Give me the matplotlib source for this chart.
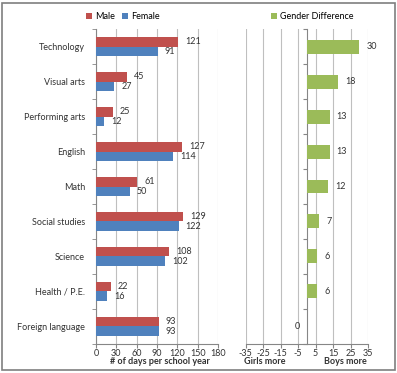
import matplotlib.pyplot as plt
from matplotlib.patches import Rectangle
import numpy as np

plt.rcParams['font.family'] = ['Lato', 'DejaVu Sans']
plt.rcParams['axes.unicode_minus'] = False

subjects = ["Technology", "Visual arts", "Performing arts", "English", "Math",
            "Social studies", "Science", "Health / P.E.", "Foreign language"]
male = [121, 45, 25, 127, 61, 129, 108, 22, 93]
female = [91, 27, 12, 114, 50, 122, 102, 16, 93]
diff = [30, 18, 13, 13, 12, 7, 6, 6, 0]

red = "#C0504D"
blue = "#4F81BD"
green = "#9BBB59"
grid_col = "#BFBFBF"
axis_col = "#868686"
txt_col = "#333333"
fs = 6.5

fig = plt.figure(figsize=(3.97, 3.73), dpi=100)
fig.patches.append(Rectangle((0.004, 0.008), 0.99, 0.984, transform=fig.transFigure,
                             fill=False, edgecolor="#7F7F7F", linewidth=1.2))

y = np.arange(len(subjects))
h = 0.27

# left panel: days per school year
ax = fig.add_axes([0.242, 0.078, 0.307, 0.844])
ax.barh(y - h / 2, male, height=h, color=red, label="Male", zorder=3)
ax.barh(y + h / 2, female, height=h, color=blue, label="Female", zorder=3)
for i in range(len(subjects)):
    ax.annotate(str(male[i]), (male[i], y[i] - h / 2), xytext=(5, 0), textcoords="offset points",
                va="center", ha="left", fontsize=fs, color=txt_col)
    ax.annotate(str(female[i]), (female[i], y[i] + h / 2), xytext=(5, 0), textcoords="offset points",
                va="center", ha="left", fontsize=fs, color=txt_col)
ax.set_xlim(0, 180)
ax.set_ylim(len(subjects) - 0.5, -0.5)
ax.set_xticks(range(0, 181, 30))
ax.set_yticks(y)
ax.set_yticklabels(subjects)
ax.set_yticks(np.arange(-0.5, len(subjects), 1), minor=True)
ax.tick_params(axis="y", which="major", length=0, labelsize=fs, pad=8, labelcolor=txt_col)
ax.tick_params(axis="y", which="minor", length=3, color=axis_col)
ax.tick_params(axis="x", length=3, color=axis_col, labelsize=fs, labelcolor=txt_col, pad=1)
ax.xaxis.grid(True, color=grid_col, linewidth=0.8, zorder=0)
for s in ["top", "right"]:
    ax.spines[s].set_visible(False)
for s in ["left", "bottom"]:
    ax.spines[s].set_color(axis_col)
fig.text(0.403, 0.03, "# of days per school year", ha="center", va="center",
         fontsize=fs, fontweight="bold", color=txt_col)
ax.legend(loc="lower center", bbox_to_anchor=(0.22, 1.0), ncol=2, frameon=False, fontsize=fs,
          handlelength=0.7, handleheight=0.7, handletextpad=0.3, columnspacing=0.8)

# right panel: gender difference
ax2 = fig.add_axes([0.619, 0.078, 0.308, 0.844])
ax2.barh(y, diff, height=0.4, color=green, label="Gender Difference", zorder=3)
for i in range(len(subjects)):
    if diff[i] == 0:
        ax2.annotate("0", (0, y[i]), xytext=(-5, 0), textcoords="offset points",
                     va="center", ha="right", fontsize=fs, color=txt_col)
    else:
        ax2.annotate(str(diff[i]), (diff[i], y[i]), xytext=(5, 0), textcoords="offset points",
                     va="center", ha="left", fontsize=fs, color=txt_col)
ax2.set_xlim(-35, 35)
ax2.set_ylim(len(subjects) - 0.5, -0.5)
ax2.set_xticks(range(-35, 36, 10))
ax2.set_yticks(np.arange(-0.5, len(subjects), 1))
ax2.set_yticklabels([])
ax2.tick_params(axis="y", length=3, color=axis_col)
ax2.tick_params(axis="x", length=3, color=axis_col, labelsize=fs, labelcolor=txt_col, pad=1)
ax2.xaxis.grid(True, color=grid_col, linewidth=0.8, zorder=0)
ax2.spines["left"].set_position(("data", 0))
for s in ["top", "right"]:
    ax2.spines[s].set_visible(False)
for s in ["left", "bottom"]:
    ax2.spines[s].set_color(axis_col)
fig.text(0.667, 0.03, "Girls more", ha="center", va="center",
         fontsize=fs, fontweight="bold", color=txt_col)
fig.text(0.87, 0.03, "Boys more", ha="center", va="center",
         fontsize=fs, fontweight="bold", color=txt_col)
ax2.legend(loc="lower center", bbox_to_anchor=(0.54, 1.0), frameon=False, fontsize=fs,
           handlelength=0.7, handleheight=0.7, handletextpad=0.3)

fig.savefig("out.png", dpi=100)
